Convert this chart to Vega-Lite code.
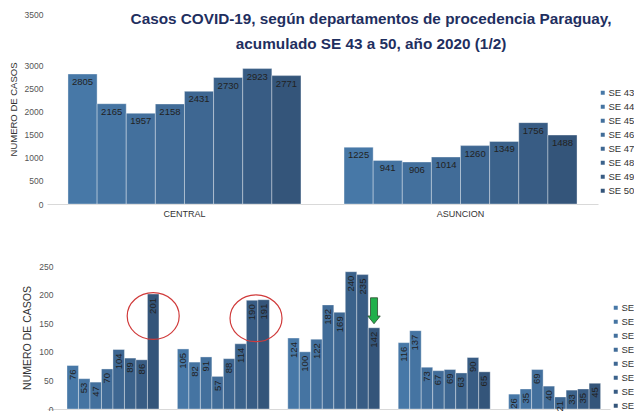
{
  "$schema": "https://vega.github.io/schema/vega-lite/v6.json",
  "padding": {"left": 8, "top": 10, "right": 0, "bottom": 0},
  "background": "#ffffff",
  "config": {
    "view": {"stroke": null},
    "font": "Liberation Sans",
    "axis": {"labelFont": "Liberation Sans", "titleFont": "Liberation Sans"},
    "legend": {"labelFont": "Liberation Sans"}
  },
  "title": {
    "text": ["Casos COVID-19, según departamentos de procedencia Paraguay,", "acumulado SE 43 a 50, año 2020 (1/2)"],
    "font": "Liberation Sans",
    "fontSize": 15.3,
    "fontWeight": "bold",
    "color": "#1f2f5f",
    "lineHeight": 25,
    "anchor": "middle",
    "offset": -42,
    "dx": 43
  },
  "datasets": {
    "top": [
      {"dept": "CENTRAL", "week": "SE 43", "cases": 2805},
      {"dept": "CENTRAL", "week": "SE 44", "cases": 2165},
      {"dept": "CENTRAL", "week": "SE 45", "cases": 1957},
      {"dept": "CENTRAL", "week": "SE 46", "cases": 2158},
      {"dept": "CENTRAL", "week": "SE 47", "cases": 2431},
      {"dept": "CENTRAL", "week": "SE 48", "cases": 2730},
      {"dept": "CENTRAL", "week": "SE 49", "cases": 2923},
      {"dept": "CENTRAL", "week": "SE 50", "cases": 2771},
      {"dept": "ASUNCION", "week": "SE 43", "cases": 1225},
      {"dept": "ASUNCION", "week": "SE 44", "cases": 941},
      {"dept": "ASUNCION", "week": "SE 45", "cases": 906},
      {"dept": "ASUNCION", "week": "SE 46", "cases": 1014},
      {"dept": "ASUNCION", "week": "SE 47", "cases": 1260},
      {"dept": "ASUNCION", "week": "SE 48", "cases": 1349},
      {"dept": "ASUNCION", "week": "SE 49", "cases": 1756},
      {"dept": "ASUNCION", "week": "SE 50", "cases": 1488}
    ],
    "bottom": [
      {"dept": "Dpto 1", "week": "SE 43", "cases": 76},
      {"dept": "Dpto 1", "week": "SE 44", "cases": 53},
      {"dept": "Dpto 1", "week": "SE 45", "cases": 47},
      {"dept": "Dpto 1", "week": "SE 46", "cases": 70},
      {"dept": "Dpto 1", "week": "SE 47", "cases": 104},
      {"dept": "Dpto 1", "week": "SE 48", "cases": 89},
      {"dept": "Dpto 1", "week": "SE 49", "cases": 86},
      {"dept": "Dpto 1", "week": "SE 50", "cases": 201},
      {"dept": "Dpto 2", "week": "SE 43", "cases": 105},
      {"dept": "Dpto 2", "week": "SE 44", "cases": 82},
      {"dept": "Dpto 2", "week": "SE 45", "cases": 91},
      {"dept": "Dpto 2", "week": "SE 46", "cases": 57},
      {"dept": "Dpto 2", "week": "SE 47", "cases": 88},
      {"dept": "Dpto 2", "week": "SE 48", "cases": 114},
      {"dept": "Dpto 2", "week": "SE 49", "cases": 190},
      {"dept": "Dpto 2", "week": "SE 50", "cases": 191},
      {"dept": "Dpto 3", "week": "SE 43", "cases": 124},
      {"dept": "Dpto 3", "week": "SE 44", "cases": 100},
      {"dept": "Dpto 3", "week": "SE 45", "cases": 122},
      {"dept": "Dpto 3", "week": "SE 46", "cases": 182},
      {"dept": "Dpto 3", "week": "SE 47", "cases": 169},
      {"dept": "Dpto 3", "week": "SE 48", "cases": 240},
      {"dept": "Dpto 3", "week": "SE 49", "cases": 235},
      {"dept": "Dpto 3", "week": "SE 50", "cases": 142},
      {"dept": "Dpto 4", "week": "SE 43", "cases": 116},
      {"dept": "Dpto 4", "week": "SE 44", "cases": 137},
      {"dept": "Dpto 4", "week": "SE 45", "cases": 73},
      {"dept": "Dpto 4", "week": "SE 46", "cases": 67},
      {"dept": "Dpto 4", "week": "SE 47", "cases": 69},
      {"dept": "Dpto 4", "week": "SE 48", "cases": 63},
      {"dept": "Dpto 4", "week": "SE 49", "cases": 90},
      {"dept": "Dpto 4", "week": "SE 50", "cases": 65},
      {"dept": "Dpto 5", "week": "SE 43", "cases": 26},
      {"dept": "Dpto 5", "week": "SE 44", "cases": 35},
      {"dept": "Dpto 5", "week": "SE 45", "cases": 69},
      {"dept": "Dpto 5", "week": "SE 46", "cases": 40},
      {"dept": "Dpto 5", "week": "SE 47", "cases": 21},
      {"dept": "Dpto 5", "week": "SE 48", "cases": 33},
      {"dept": "Dpto 5", "week": "SE 49", "cases": 35},
      {"dept": "Dpto 5", "week": "SE 50", "cases": 45}
    ]
  },
  "spacing": 44,
  "resolve": {
    "scale": {"x": "independent", "y": "independent", "xOffset": "independent", "color": "independent"},
    "legend": {"color": "independent"}
  },
  "vconcat": [
    {
      "width": 551,
      "height": 190,
      "data": {"name": "top"},
      "encoding": {
        "x": {
          "field": "dept", "type": "nominal", "sort": ["CENTRAL", "ASUNCION"],
          "scale": {"paddingInner": 0.156, "paddingOuter": 0.076},
          "axis": {"title": null, "labelAngle": 0, "labelFontSize": 9, "labelColor": "#333333", "ticks": false, "labelPadding": 5, "domainColor": "#d9d9d9", "grid": false}
        },
        "xOffset": {"field": "week", "type": "nominal", "sort": "ascending", "scale": {"paddingInner": 0, "paddingOuter": 0}},
        "y": {
          "field": "cases", "type": "quantitative",
          "scale": {"domain": [0, 3000, 3500], "range": [190, 51, 0], "nice": false},
          "axis": {"title": "NUMERO DE CASOS", "titleFontSize": 9.5, "titleFontWeight": "normal", "titleColor": "#333333", "titlePadding": 6, "values": [0, 500, 1000, 1500, 2000, 2500, 3000, 3500], "format": "d", "labelFontSize": 8.5, "labelColor": "#555555", "domain": false, "ticks": false, "grid": false, "labelPadding": 4}
        }
      },
      "layer": [
        {
          "mark": {"type": "bar", "stroke": "#ffffff", "strokeOpacity": 0.35, "strokeWidth": 1},
          "encoding": {
            "color": {
              "field": "week", "type": "nominal",
              "scale": {"domain": ["SE 43", "SE 44", "SE 45", "SE 46", "SE 47", "SE 48", "SE 49", "SE 50"], "range": ["#4778a7", "#4574a2", "#43709d", "#416c98", "#3e6792", "#3b628b", "#385c84", "#34557a"]},
              "legend": {"orient": "none", "legendX": 551, "legendY": 74, "title": null, "symbolType": "square", "symbolSize": 30, "labelFontSize": 9.5, "rowPadding": 2, "labelColor": "#333333", "labelOffset": 1}
            }
          }
        },
        {
          "mark": {"type": "text", "baseline": "top", "dy": 3, "fontSize": 9.5, "color": "#222222"},
          "encoding": {"text": {"field": "cases", "type": "quantitative", "format": "d"}}
        }
      ]
    },
    {
      "width": 563,
      "height": 143,
      "data": {"name": "bottom"},
      "encoding": {
        "x": {
          "field": "dept", "type": "nominal", "sort": null,
          "scale": {"paddingInner": 0.167, "paddingOuter": 0.133, "align": 0.68},
          "axis": {"title": null, "labels": false, "ticks": false, "domainColor": "#d9d9d9", "grid": false}
        },
        "xOffset": {"field": "week", "type": "nominal", "sort": "ascending", "scale": {"paddingInner": 0, "paddingOuter": 0}},
        "y": {
          "field": "cases", "type": "quantitative",
          "scale": {"domain": [0, 250], "nice": false},
          "axis": {"title": "NUMERO DE CASOS", "titleFontSize": 10.5, "titleFontWeight": "normal", "titleColor": "#333333", "titlePadding": 6, "values": [0, 50, 100, 150, 200, 250], "format": "d", "labelFontSize": 8.5, "labelColor": "#555555", "domain": false, "ticks": false, "grid": false, "labelPadding": 4, "offset": -10}
        }
      },
      "layer": [
        {
          "mark": {"type": "bar", "stroke": "#ffffff", "strokeOpacity": 0.35, "strokeWidth": 1},
          "encoding": {
            "color": {
              "field": "week", "type": "nominal",
              "scale": {"domain": ["SE 43", "SE 44", "SE 45", "SE 46", "SE 47", "SE 48", "SE 49", "SE 50"], "range": ["#4778a7", "#4574a2", "#43709d", "#416c98", "#3e6792", "#3b628b", "#385c84", "#34557a"]},
              "legend": {"orient": "none", "legendX": 564, "legendY": 37, "title": null, "symbolType": "square", "symbolSize": 30, "labelFontSize": 9.5, "rowPadding": 2, "labelColor": "#333333", "labelOffset": 1}
            }
          }
        },
        {
          "mark": {"type": "text", "angle": 270, "align": "right", "baseline": "middle", "yOffset": 4, "fontSize": 9.5, "color": "#222222"},
          "encoding": {"text": {"field": "cases", "type": "quantitative", "format": "d"}}
        },
        {
          "transform": [{"filter": "datum.dept == 'Dpto 1' && datum.week == 'SE 50'"}],
          "mark": {"type": "point", "shape": "M -1 0 A 1 0.9 0 1 1 1 0 A 1 0.9 0 1 1 -1 0 Z", "size": 2704, "filled": false, "color": "#d03a3a", "strokeWidth": 1.2, "opacity": 1, "yOffset": 22},
          "encoding": {}
        },
        {
          "transform": [{"filter": "datum.dept == 'Dpto 2' && datum.week == 'SE 49'"}],
          "mark": {"type": "point", "shape": "M -0.85 0 A 1 0.9 0 1 1 1.15 0 A 1 0.9 0 1 1 -0.85 0 Z", "size": 2704, "filled": false, "color": "#d03a3a", "strokeWidth": 1.2, "opacity": 1, "yOffset": 18},
          "encoding": {}
        },
        {
          "transform": [{"filter": "datum.dept == 'Dpto 3' && datum.week == 'SE 50'"}],
          "mark": {"type": "point", "shape": "M -0.27 -1 L 0.27 -1 L 0.27 0.4 L 0.48 0.4 L 0 1 L -0.48 0.4 L -0.27 0.4 Z", "size": 676, "filled": true, "fill": "#22b04b", "stroke": "#2e4a30", "strokeWidth": 0.8, "opacity": 1, "yOffset": -17},
          "encoding": {}
        }
      ]
    }
  ]
}
